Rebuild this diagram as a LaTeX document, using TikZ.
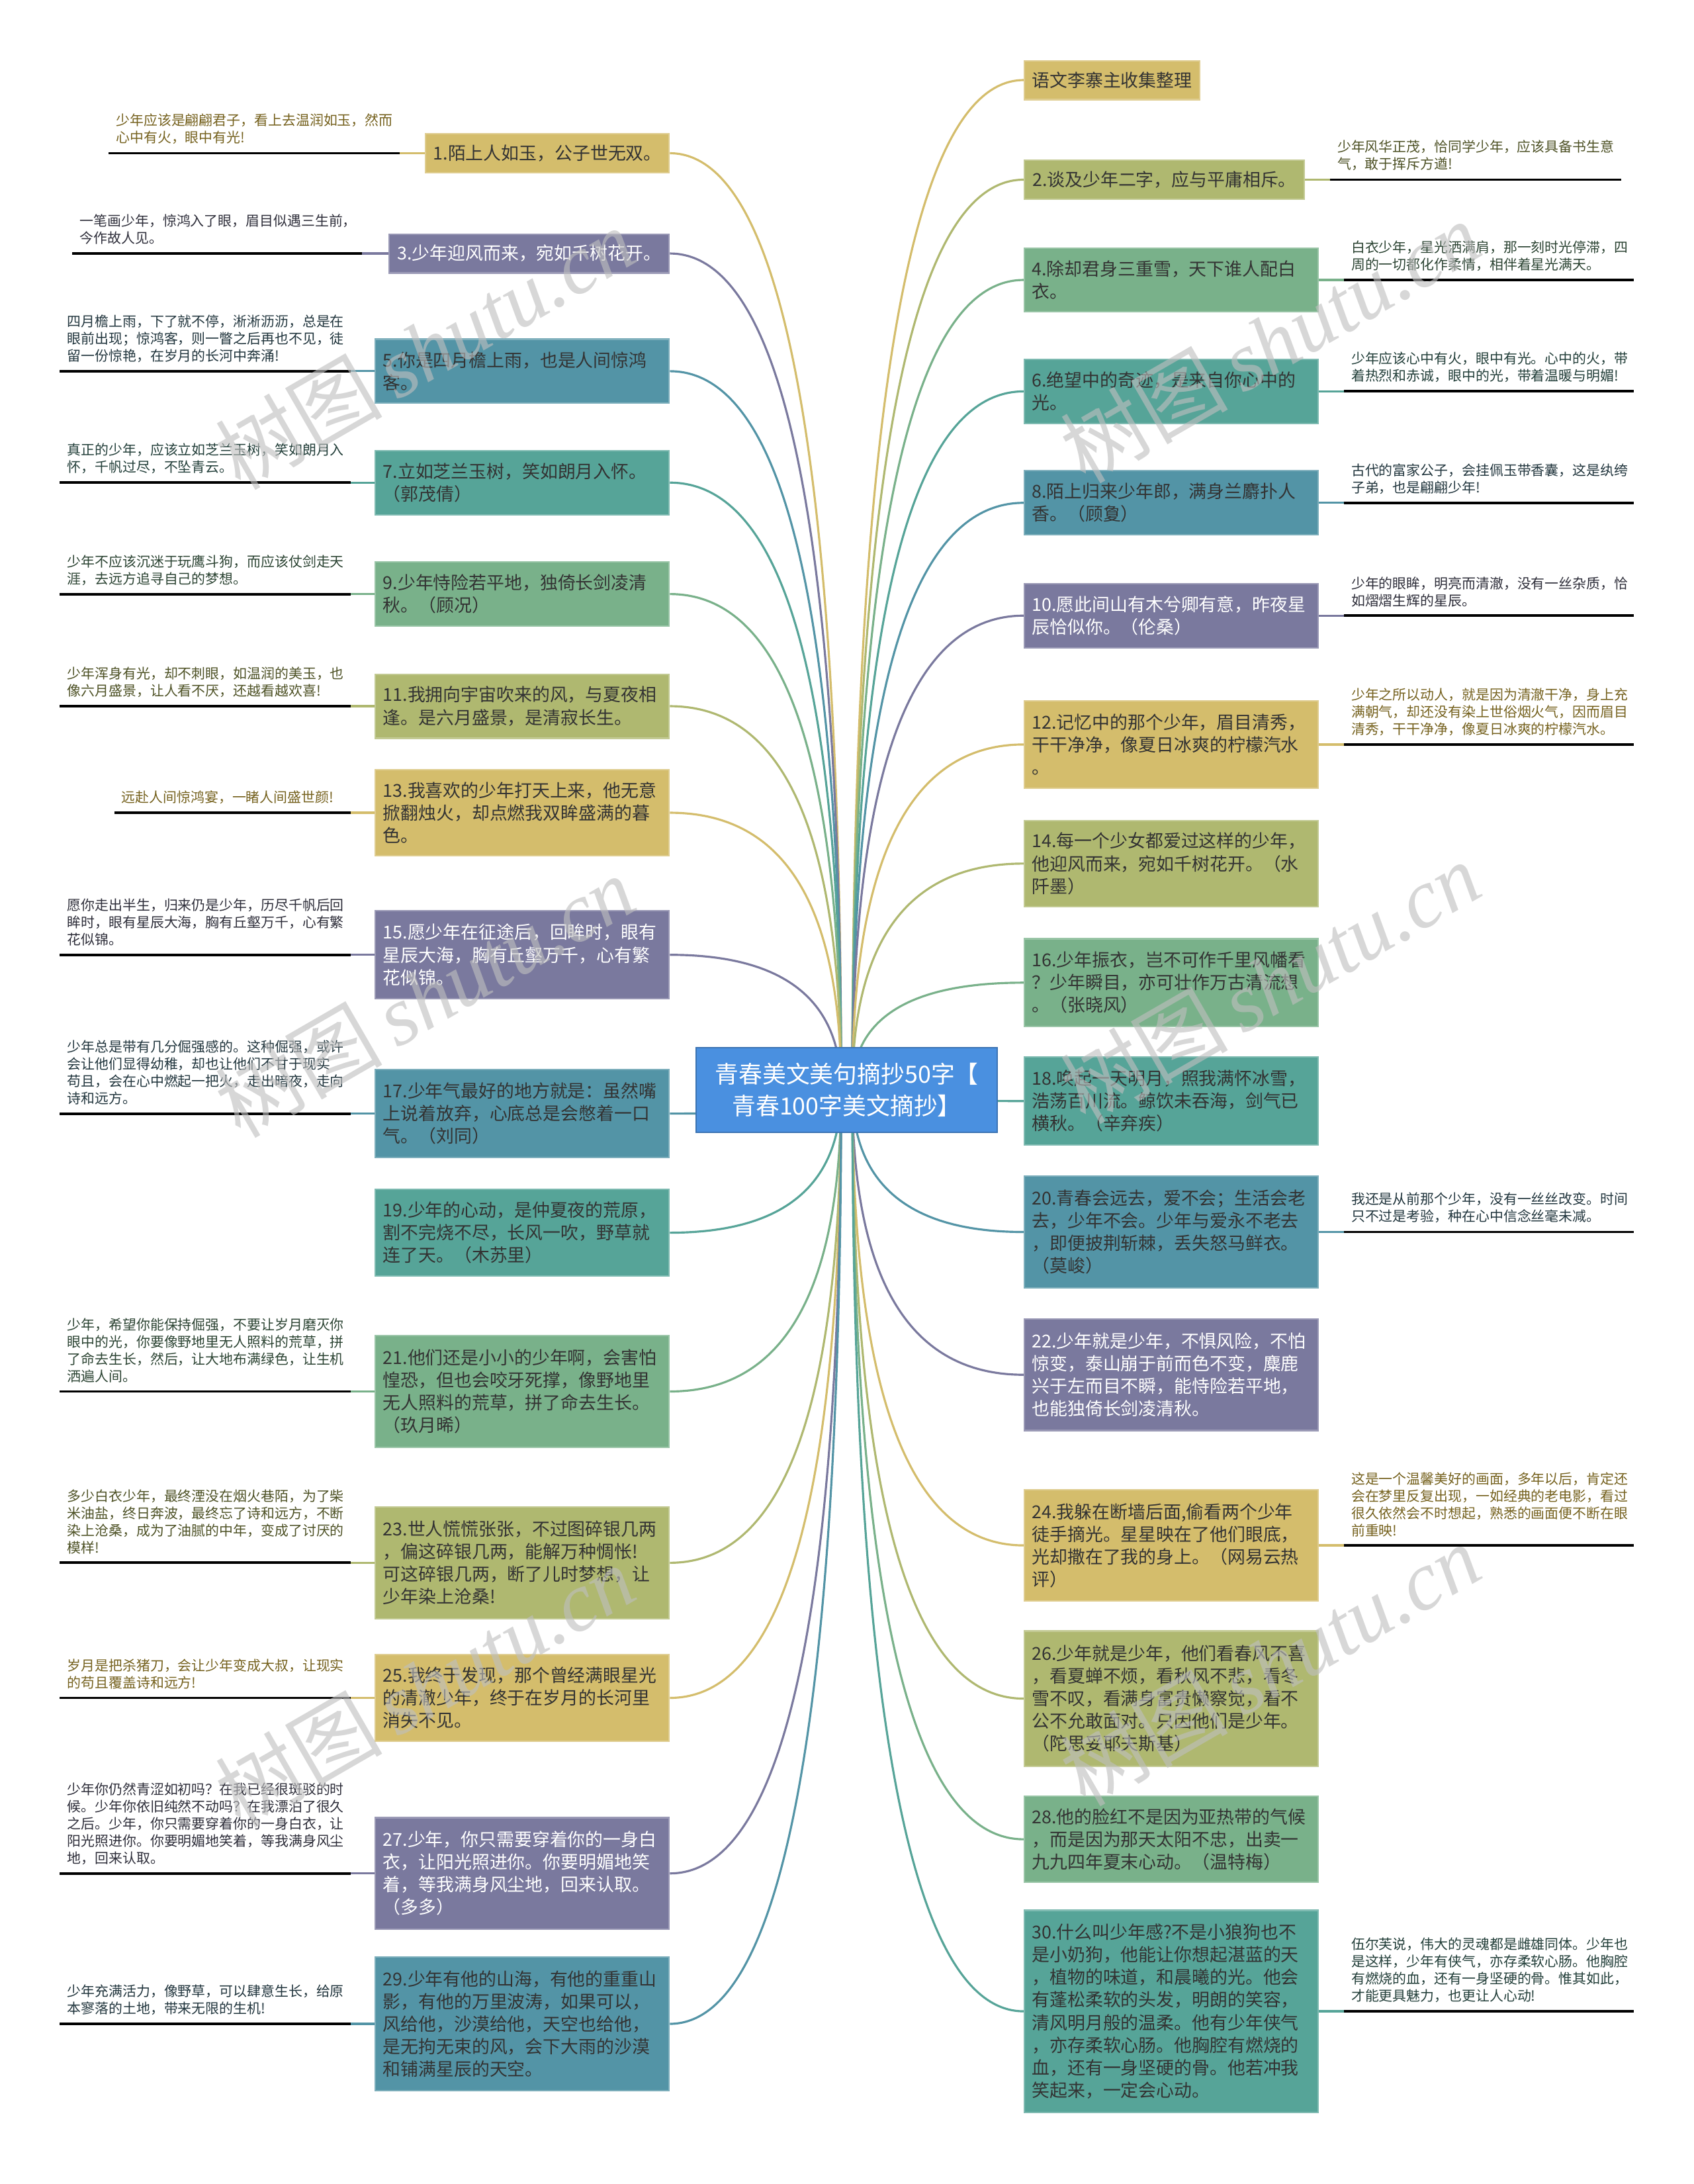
\documentclass[tikz,border=0pt]{standalone}
\usepackage{fontspec}
\newfontfamily\cjk{Noto Sans CJK SC}
\newfontfamily\wmserif{Liberation Serif}
\usetikzlibrary{calc}
\definecolor{cgold}{HTML}{D4BD6C}
\definecolor{colive}{HTML}{AFB870}
\definecolor{cgreen}{HTML}{79B18A}
\definecolor{cteal}{HTML}{56A498}
\definecolor{cbteal}{HTML}{5394A6}
\definecolor{cpurple}{HTML}{7A799E}
\definecolor{cblue}{HTML}{4A90E0}
\definecolor{ctext}{HTML}{333333}
\definecolor{ngold}{HTML}{76621F}
\definecolor{nolive}{HTML}{4E5226}
\definecolor{ngreen}{HTML}{2C4433}
\definecolor{nteal}{HTML}{233F3A}
\definecolor{nbteal}{HTML}{22363E}
\definecolor{npurple}{HTML}{2E2E3A}
\pgfdeclarelayer{backmost}
\pgfdeclarelayer{back}
\pgfdeclarelayer{front}
\pgfsetlayers{backmost,back,main,front}
\newcommand\curve[3]{\draw[conn,#1] (#2) .. controls ($(#2)!0.667!(#2 |- #3)$) and ($(#3)!0.667!(#2 |- #3)$) .. (#3);}
\newcommand\lnote[7]{%
  \coordinate (a#1) at (#5,#6);
  \coordinate (b#1) at (#4,#6);
  \draw[conn,#2] (#1.west) -- (a#1);
  \draw[bline] (a#1) -- (b#1);
  \node[note,text=#3] (t#1) at ($(b#1)+(5,-6)$) {#7};}
\newcommand\rnote[7]{%
  \coordinate (a#1) at (#4,#6);
  \coordinate (b#1) at (#5,#6);
  \draw[conn,#2] (#1.east) -- (a#1);
  \draw[bline] (a#1) -- (b#1);
  \node[note,text=#3] (t#1) at ($(a#1)+(5,-6)$) {#7};}
\begin{document}
\begin{tikzpicture}[x=0.2105mm, y=-0.2105mm,
  box/.style={rectangle, inner xsep=1.16mm, inner ysep=0.5mm, font=\cjk\fontsize{7.65}{9.7}\selectfont, align=left, line width=0.6pt},
  bgold/.style={box, fill=cgold, draw=cgold!75!white, text=ctext},
  bolive/.style={box, fill=colive, draw=colive!75!white, text=ctext},
  bgreen/.style={box, fill=cgreen, draw=cgreen!75!white, text=ctext},
  bteal/.style={box, fill=cteal, draw=cteal!75!white, text=ctext},
  bbteal/.style={box, fill=cbteal, draw=cbteal!75!white, text=ctext},
  bpurple/.style={box, fill=cpurple, draw=cpurple!75!white, text=white},
  tw/.style={text width=42.1mm},
  ht/.style={minimum height=#1*0.2105mm},
  L/.style={anchor=east},
  R/.style={anchor=west},
  root/.style={rectangle, fill=cblue, draw=cblue!80!black, line width=0.6pt, text=white, font=\cjk\fontsize{10.2}{13.8}\selectfont, align=center, minimum width=216*0.2105mm, minimum height=61*0.2105mm},
  note/.style={anchor=south west, inner sep=0pt, font=\cjk\fontsize{5.95}{7.4}\selectfont, align=left},
  conn/.style={line width=0.9pt},
  bline/.style={line width=1.1pt, black},
  wm/.style={rotate=30, inner sep=0pt, text=black!25, text opacity=0.62, font=\fontsize{36}{36}\selectfont}
]
\begin{pgfonlayer}{backmost}
\fill[white] (0,0) rectangle (1216,1568);
\end{pgfonlayer}
\useasboundingbox (0,0) rectangle (1216,1568);

\node[root] (root) at (608,782.5) {青春美文美句摘抄50字【\\青春100字美文摘抄】};
\coordinate (hubL) at (604,782.5);
\coordinate (hubR) at (612,782.5);

% left branches
\node[bgold,L,ht=28,minimum width=174*0.2105mm,align=center] (n1) at (481,110) {1.陌上人如玉，公子世无双。};
\node[bpurple,L,ht=28,minimum width=201*0.2105mm,align=center] (n3) at (481,182) {3.少年迎风而来，宛如千树花开。};
\node[bbteal,L,ht=46,tw] (n5) at (481,266.5) {5.你是四月檐上雨，也是人间惊鸿\\客。};
\node[bteal,L,ht=46,tw] (n7) at (481,346.5) {7.立如芝兰玉树，笑如朗月入怀。\\（郭茂倩）};
\node[bgreen,L,ht=46,tw] (n9) at (481,426.5) {9.少年恃险若平地，独倚长剑凌清\\秋。（顾况）};
\node[bolive,L,ht=46,tw] (n11) at (481,507) {11.我拥向宇宙吹来的风，与夏夜相\\逢。是六月盛景，是清寂长生。};
\node[bgold,L,ht=62,tw] (n13) at (481,583.5) {13.我喜欢的少年打天上来，他无意\\掀翻烛火，却点燃我双眸盛满的暮\\色。};
\node[bpurple,L,ht=63,tw] (n15) at (481,685.5) {15.愿少年在征途后，回眸时，眼有\\星辰大海，胸有丘壑万千，心有繁\\花似锦。};
\node[bbteal,L,ht=63,tw] (n17) at (481,799.5) {17.少年气最好的地方就是：虽然嘴\\上说着放弃，心底总是会憋着一口\\气。（刘同）};
\node[bteal,L,ht=62,tw] (n19) at (481,885) {19.少年的心动，是仲夏夜的荒原，\\割不完烧不尽，长风一吹，野草就\\连了天。（木苏里）};
\node[bgreen,L,ht=80,tw] (n21) at (481,999) {21.他们还是小小的少年啊，会害怕\\惶恐，但也会咬牙死撑，像野地里\\无人照料的荒草，拼了命去生长。\\（玖月晞）};
\node[bolive,L,ht=80,tw] (n23) at (481,1122) {23.世人慌慌张张，不过图碎银几两\\，偏这碎银几两，能解万种惆怅!\\可这碎银几两，断了儿时梦想，让\\少年染上沧桑!};
\node[bgold,L,ht=62,tw] (n25) at (481,1219) {25.我终于发现，那个曾经满眼星光\\的清澈少年，终于在岁月的长河里\\消失不见。};
\node[bpurple,L,ht=80,tw] (n27) at (481,1345) {27.少年，你只需要穿着你的一身白\\衣，让阳光照进你。你要明媚地笑\\着，等我满身风尘地，回来认取。\\（多多）};
\node[bbteal,L,ht=96,tw] (n29) at (481,1453) {29.少年有他的山海，有他的重重山\\影，有他的万里波涛，如果可以，\\风给他，沙漠给他，天空也给他，\\是无拘无束的风，会下大雨的沙漠\\和铺满星辰的天空。};

% right branches
\node[bgold,R,ht=28,minimum width=125*0.2105mm,align=center] (n0) at (735,57.5) {语文李寨主收集整理};
\node[bolive,R,ht=28,minimum width=201*0.2105mm,align=center] (n2) at (735,129) {2.谈及少年二字，应与平庸相斥。};
\node[bgreen,R,ht=46,tw] (n4) at (735,201) {4.除却君身三重雪，天下谁人配白\\衣。};
\node[bteal,R,ht=46,tw] (n6) at (735,281) {6.绝望中的奇迹，是来自你心中的\\光。};
\node[bbteal,R,ht=46,tw] (n8) at (735,361) {8.陌上归来少年郎，满身兰麝扑人\\香。（顾夐）};
\node[bpurple,R,ht=46,tw] (n10) at (735,442) {10.愿此间山有木兮卿有意，昨夜星\\辰恰似你。（伦桑）};
\node[bgold,R,ht=63,tw] (n12) at (735,534.5) {12.记忆中的那个少年，眉目清秀，\\干干净净，像夏日冰爽的柠檬汽水\\。};
\node[bolive,R,ht=62,tw] (n14) at (735,620) {14.每一个少女都爱过这样的少年，\\他迎风而来，宛如千树花开。（水\\阡墨）};
\node[bgreen,R,ht=63,tw] (n16) at (735,705.5) {16.少年振衣，岂不可作千里风幡看\\？少年瞬目，亦可壮作万古清流想\\。（张晓风）};
\node[bteal,R,ht=63,tw] (n18) at (735,790.5) {18.唤起一天明月，照我满怀冰雪，\\浩荡百川流。鲸饮未吞海，剑气已\\横秋。（辛弃疾）};
\node[bbteal,R,ht=80,tw] (n20) at (735,884.5) {20.青春会远去，爱不会；生活会老\\去，少年不会。少年与爱永不老去\\，即便披荆斩棘，丢失怒马鲜衣。\\（莫峻）};
\node[bpurple,R,ht=80,tw] (n22) at (735,987) {22.少年就是少年，不惧风险，不怕\\惊变，泰山崩于前而色不变，麋鹿\\兴于左而目不瞬，能恃险若平地，\\也能独倚长剑凌清秋。};
\node[bgold,R,ht=80,tw] (n24) at (735,1109.5) {24.我躲在断墙后面,偷看两个少年\\徒手摘光。星星映在了他们眼底，\\光却撒在了我的身上。（网易云热\\评）};
\node[bolive,R,ht=97,tw] (n26) at (735,1219.5) {26.少年就是少年，他们看春风不喜\\，看夏蝉不烦，看秋风不悲，看冬\\雪不叹，看满身富贵懒察觉，看不\\公不允敢面对。只因他们是少年。\\（陀思妥耶夫斯基）};
\node[bgreen,R,ht=62,tw] (n28) at (735,1320.5) {28.他的脸红不是因为亚热带的气候\\，而是因为那天太阳不忠，出卖一\\九九四年夏末心动。（温特梅）};
\node[bteal,R,ht=145,tw] (n30) at (735,1444) {30.什么叫少年感?不是小狼狗也不\\是小奶狗，他能让你想起湛蓝的天\\，植物的味道，和晨曦的光。他会\\有蓬松柔软的头发，明朗的笑容，\\清风明月般的温柔。他有少年侠气\\，亦存柔软心肠。他胸腔有燃烧的\\血，还有一身坚硬的骨。他若冲我\\笑起来，一定会心动。};

% connectors from the root
\begin{pgfonlayer}{back}
\curve{cgold}{hubL}{n1.east}
\curve{cpurple}{hubL}{n3.east}
\curve{cbteal}{hubL}{n5.east}
\curve{cteal}{hubL}{n7.east}
\curve{cgreen}{hubL}{n9.east}
\curve{colive}{hubL}{n11.east}
\curve{cgold}{hubL}{n13.east}
\curve{cpurple}{hubL}{n15.east}
\curve{cbteal}{hubL}{n17.east}
\curve{cteal}{hubL}{n19.east}
\curve{cgreen}{hubL}{n21.east}
\curve{colive}{hubL}{n23.east}
\curve{cgold}{hubL}{n25.east}
\curve{cpurple}{hubL}{n27.east}
\curve{cbteal}{hubL}{n29.east}
\curve{cgold}{hubR}{n0.west}
\curve{colive}{hubR}{n2.west}
\curve{cgreen}{hubR}{n4.west}
\curve{cteal}{hubR}{n6.west}
\curve{cbteal}{hubR}{n8.west}
\curve{cpurple}{hubR}{n10.west}
\curve{cgold}{hubR}{n12.west}
\curve{colive}{hubR}{n14.west}
\curve{cgreen}{hubR}{n16.west}
\curve{cteal}{hubR}{n18.west}
\curve{cbteal}{hubR}{n20.west}
\curve{cpurple}{hubR}{n22.west}
\curve{cgold}{hubR}{n24.west}
\curve{colive}{hubR}{n26.west}
\curve{cgreen}{hubR}{n28.west}
\curve{cteal}{hubR}{n30.west}
\end{pgfonlayer}

% notes, left
\lnote{n1}{cgold}{ngold}{78}{287}{110}{少年应该是翩翩君子，看上去温润如玉，然而\\心中有火，眼中有光!}
\lnote{n3}{cpurple}{npurple}{52}{260}{182}{一笔画少年，惊鸿入了眼，眉目似遇三生前，\\今作故人见。}
\lnote{n5}{cbteal}{nbteal}{43}{252}{266.5}{四月檐上雨，下了就不停，淅淅沥沥，总是在\\眼前出现；惊鸿客，则一瞥之后再也不见，徒\\留一份惊艳，在岁月的长河中奔涌!}
\lnote{n7}{cteal}{nteal}{43}{252}{346.5}{真正的少年，应该立如芝兰玉树，笑如朗月入\\怀，千帆过尽，不坠青云。}
\lnote{n9}{cgreen}{ngreen}{43}{252}{426.5}{少年不应该沉迷于玩鹰斗狗，而应该仗剑走天\\涯，去远方追寻自己的梦想。}
\lnote{n11}{colive}{nolive}{43}{252}{507}{少年浑身有光，却不刺眼，如温润的美玉，也\\像六月盛景，让人看不厌，还越看越欢喜!}
\lnote{n13}{cgold}{ngold}{82}{252}{583.5}{远赴人间惊鸿宴，一睹人间盛世颜!}
\lnote{n15}{cpurple}{npurple}{43}{252}{685.5}{愿你走出半生，归来仍是少年，历尽千帆后回\\眸时，眼有星辰大海，胸有丘壑万千，心有繁\\花似锦。}
\lnote{n17}{cbteal}{nbteal}{43}{252}{799.5}{少年总是带有几分倔强感的。这种倔强，或许\\会让他们显得幼稚，却也让他们不甘于现实\\苟且，会在心中燃起一把火，走出暗夜，走向\\诗和远方。}
\lnote{n21}{cgreen}{ngreen}{43}{252}{999}{少年，希望你能保持倔强，不要让岁月磨灭你\\眼中的光，你要像野地里无人照料的荒草，拼\\了命去生长，然后，让大地布满绿色，让生机\\洒遍人间。}
\lnote{n23}{colive}{nolive}{43}{252}{1122}{多少白衣少年，最终湮没在烟火巷陌，为了柴\\米油盐，终日奔波，最终忘了诗和远方，不断\\染上沧桑，成为了油腻的中年，变成了讨厌的\\模样!}
\lnote{n25}{cgold}{ngold}{43}{252}{1219}{岁月是把杀猪刀，会让少年变成大叔，让现实\\的苟且覆盖诗和远方!}
\lnote{n27}{cpurple}{npurple}{43}{252}{1345}{少年你仍然青涩如初吗？在我已经很斑驳的时\\候。少年你依旧纯然不动吗？在我漂泊了很久\\之后。少年，你只需要穿着你的一身白衣，让\\阳光照进你。你要明媚地笑着，等我满身风尘\\地，回来认取。}
\lnote{n29}{cbteal}{nbteal}{43}{252}{1453}{少年充满活力，像野草，可以肆意生长，给原\\本寥落的土地，带来无限的生机!}

% notes, right
\rnote{n2}{colive}{nolive}{955}{1164}{129}{少年风华正茂，恰同学少年，应该具备书生意\\气，敢于挥斥方遒!}
\rnote{n4}{cgreen}{ngreen}{965}{1173}{201}{白衣少年，星光洒满肩，那一刻时光停滞，四\\周的一切都化作柔情，相伴着星光满天。}
\rnote{n6}{cteal}{nteal}{965}{1173}{281}{少年应该心中有火，眼中有光。心中的火，带\\着热烈和赤诚，眼中的光，带着温暖与明媚!}
\rnote{n8}{cbteal}{nbteal}{965}{1173}{361}{古代的富家公子，会挂佩玉带香囊，这是纨绔\\子弟，也是翩翩少年!}
\rnote{n10}{cpurple}{npurple}{965}{1173}{442}{少年的眼眸，明亮而清澈，没有一丝杂质，恰\\如熠熠生辉的星辰。}
\rnote{n12}{cgold}{ngold}{965}{1173}{534.5}{少年之所以动人，就是因为清澈干净，身上充\\满朝气，却还没有染上世俗烟火气，因而眉目\\清秀，干干净净，像夏日冰爽的柠檬汽水。}
\rnote{n20}{cbteal}{nbteal}{965}{1173}{884.5}{我还是从前那个少年，没有一丝丝改变。时间\\只不过是考验，种在心中信念丝毫未减。}
\rnote{n24}{cgold}{ngold}{965}{1173}{1109.5}{这是一个温馨美好的画面，多年以后，肯定还\\会在梦里反复出现，一如经典的老电影，看过\\很久依然会不时想起，熟悉的画面便不断在眼\\前重映!}
\rnote{n30}{cteal}{nteal}{965}{1173}{1444}{伍尔芙说，伟大的灵魂都是雌雄同体。少年也\\是这样，少年有侠气，亦存柔软心肠。他胸腔\\有燃烧的血，还有一身坚硬的骨。惟其如此，\\才能更具魅力，也更让人心动!}

% watermarks
\begin{pgfonlayer}{front}
\node[wm] (wm1) at (305,250) {{\cjk 树图}\,{\wmserif\itshape shutu.cn}};
\node[wm] (wm2) at (912,245) {{\cjk 树图}\,{\wmserif\itshape shutu.cn}};
\node[wm] (wm3) at (305,715) {{\cjk 树图}\,{\wmserif\itshape shutu.cn}};
\node[wm] (wm4) at (912,705) {{\cjk 树图}\,{\wmserif\itshape shutu.cn}};
\node[wm] (wm5) at (305,1210) {{\cjk 树图}\,{\wmserif\itshape shutu.cn}};
\node[wm] (wm6) at (912,1195) {{\cjk 树图}\,{\wmserif\itshape shutu.cn}};
\end{pgfonlayer}
\end{tikzpicture}
\end{document}
